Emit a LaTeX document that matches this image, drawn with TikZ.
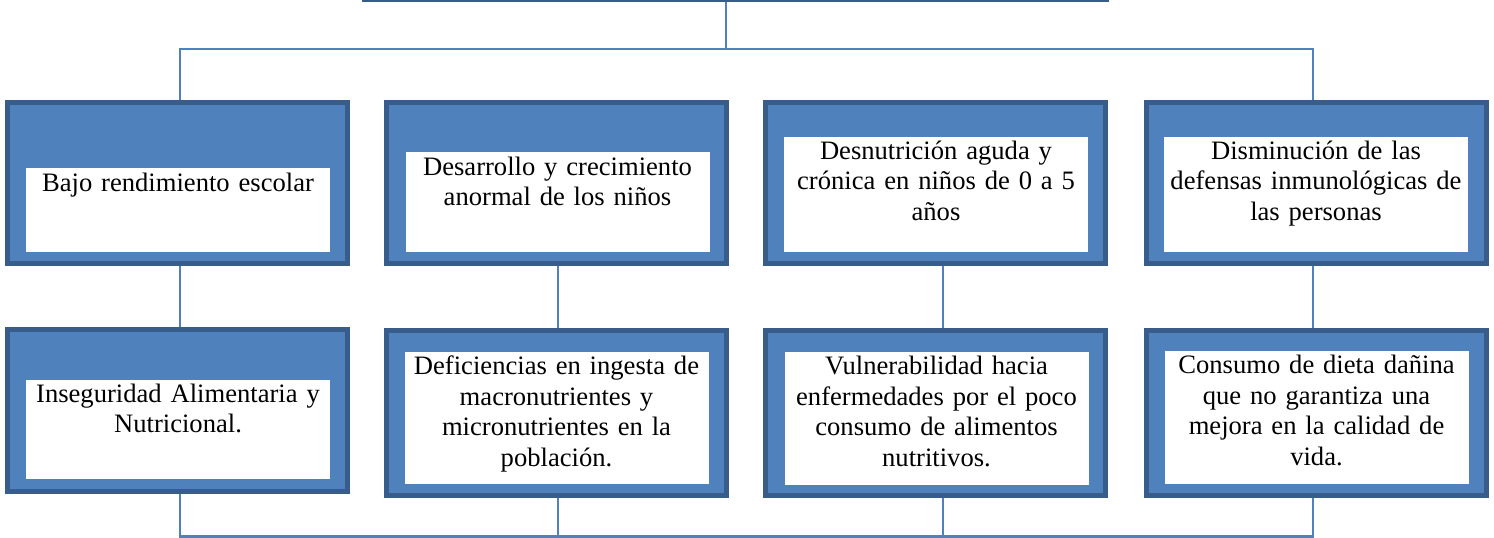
\documentclass[tikz,border=0pt]{standalone}
\usepackage{fontspec}
\setmainfont{Liberation Serif}
\usetikzlibrary{positioning}
\definecolor{azul}{HTML}{4F81BD}
\definecolor{borde}{HTML}{385D8A}

\begin{document}
\begin{tikzpicture}[x=1pt,y=-1pt,
  caja/.style={draw=borde,line width=5pt,fill=azul,minimum width=340pt,inner sep=0pt},
  hoja/.style={fill=white,minimum width=304pt,inner sep=0pt,anchor=south},
  texto/.style={text width=300pt,align=center,inner sep=0pt,font=\fontsize{26.6}{30.6}\selectfont},
  linea/.style={draw=azul,line width=2.2pt}]
  \useasboundingbox (0,0) rectangle (1494,538);
  \coordinate (J) at (726,49);
  \coordinate (JI) at (180,49);
  \coordinate (JD) at (1313,49);
  \coordinate (PI) at (180,536.5);
  \coordinate (PD) at (1313,536.5);
  % problema, cortado arriba
  \node[draw=borde,line width=2.5pt,minimum width=745pt,minimum height=60pt,anchor=south] (P) at (735.5,1.5) {};
  % efectos
  \node[caja,minimum height=161pt] (E1) at (177.5,183) {};
  \node[caja,minimum height=161pt] (E2) at (556.5,183) {};
  \node[caja,minimum height=161pt] (E3) at (935.5,183) {};
  \node[caja,minimum height=161pt] (E4) at (1316,183) {};
  % causas
  \node[caja,minimum height=162pt] (C1) at (177.5,410.5) {};
  \node[caja,minimum height=165pt] (C2) at (556.5,413) {};
  \node[caja,minimum height=165pt] (C3) at (935.5,413) {};
  \node[caja,minimum height=165pt] (C4) at (1316,413) {};
  % conectores
  \draw[linea] (P.south -| J) -- (J);
  \draw[linea] (E1.north -| JI) |- (JD) -- (E4.north -| JD);
  \draw[linea] (E1.south -| PI) -- (C1.north -| PI);
  \draw[linea] ([xshift=1.5pt]E2.south) -- ([xshift=1.5pt]C2.north);
  \draw[linea] ([xshift=7.5pt]E3.south) -- ([xshift=7.5pt]C3.north);
  \draw[linea] (E4.south -| PD) -- (C4.north -| PD);
  \draw[linea] (C1.south -| PI) |- (PD) -- (C4.south -| PD);
  \draw[linea] ([xshift=1.5pt]C2.south) -- ([xshift=1.5pt]C2.south |- PI);
  \draw[linea] ([xshift=7.5pt]C3.south) -- ([xshift=7.5pt]C3.south |- PI);
  % hojas blancas
  \node[hoja,minimum height=84pt] (E1w) at (178,252) {};
  \node[hoja,minimum height=100pt] (E2w) at (557.5,252) {};
  \node[hoja,minimum height=115pt] (E3w) at (936,252) {};
  \node[hoja,minimum height=115pt] (E4w) at (1316,252) {};
  \node[hoja,minimum height=99pt] (C1w) at (178,479) {};
  \node[hoja,minimum height=132pt] (C2w) at (556.5,484) {};
  \node[hoja,minimum height=133pt] (C3w) at (936.5,485) {};
  \node[hoja,minimum height=133pt] (C4w) at (1316.5,484) {};
  % textos
  \node[texto,below=2pt of E1w.north] (E1t) {\strut Bajo rendimiento escolar};
  \node[texto,below=2pt of E2w.north] (E2t) {\strut Desarrollo y crecimiento\\anormal de los niños};
  \node[texto,below=1pt of E3w.north] (E3t) {\strut Desnutrición aguda y\\crónica en niños de 0 a 5\\años};
  \node[texto,below=1pt of E4w.north] (E4t) {\strut Disminución de las\\defensas inmunológicas de\\las personas};
  \node[texto,below=1pt of C1w.north] (C1t) {\strut Inseguridad Alimentaria y\\Nutricional.};
  \node[texto,below=1.5pt of C2w.north] (C2t) {\strut Deficiencias en ingesta de\\macronutrientes y\\micronutrientes en la\\población.};
  \node[texto,below=1.5pt of C3w.north] (C3t) {\strut Vulnerabilidad hacia\\enfermedades por el poco\\consumo de alimentos\\nutritivos.};
  \node[texto,below=1.5pt of C4w.north] (C4t) {\strut Consumo de dieta dañina\\que no garantiza una\\mejora en la calidad de\\vida.};
\end{tikzpicture}
\end{document}
